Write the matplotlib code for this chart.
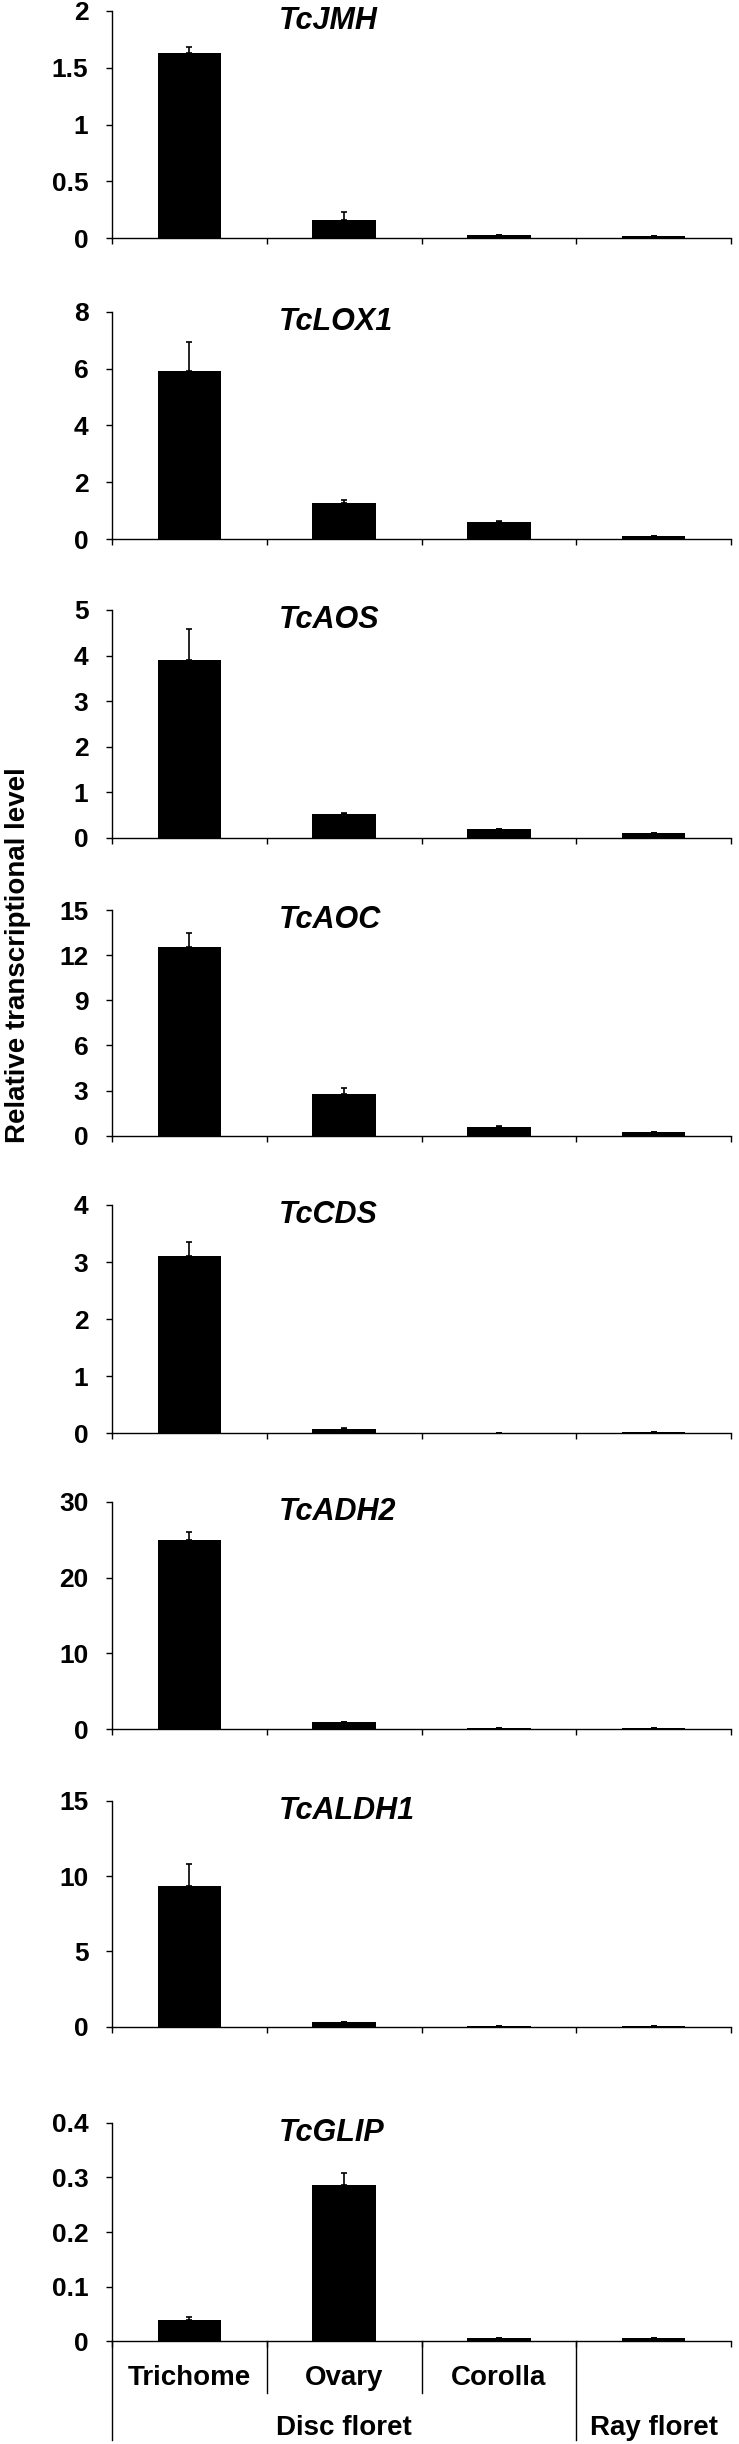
import numpy as np
import matplotlib
matplotlib.use("Agg")
import matplotlib.pyplot as plt
from matplotlib.transforms import blended_transform_factory
from matplotlib.lines import Line2D

# ---------------- data ----------------
genes = ["TcJMH", "TcLOX1", "TcAOS", "TcAOC", "TcCDS", "TcADH2", "TcALDH1", "TcGLIP"]
tissues = ["Trichome", "Ovary", "Corolla", ""]
groups = ["Disc floret", "Ray floret"]

JMH = [1.63, 0.16, 0.03, 0.02]
JMH_err = [0.05, 0.07, 0.0, 0.0]
LOX1 = [5.93, 1.26, 0.61, 0.12]
LOX1_err = [0.99, 0.12, 0.05, 0.0]
AOS = [3.90, 0.52, 0.19, 0.11]
AOS_err = [0.68, 0.03, 0.0, 0.0]
AOC = [12.56, 2.75, 0.60, 0.24]
AOC_err = [0.94, 0.44, 0.06, 0.0]
CDS = [3.11, 0.076, 0.01, 0.02]
CDS_err = [0.24, 0.014, 0.0, 0.0]
ADH2 = [24.9, 0.92, 0.13, 0.22]
ADH2_err = [1.06, 0.0, 0.0, 0.0]
ALDH1 = [9.35, 0.31, 0.05, 0.07]
ALDH1_err = [1.46, 0.0, 0.0, 0.0]
GLIP = [0.039, 0.286, 0.006, 0.006]
GLIP_err = [0.006, 0.022, 0.0, 0.0]

values = [JMH, LOX1, AOS, AOC, CDS, ADH2, ALDH1, GLIP]
errors = [JMH_err, LOX1_err, AOS_err, AOC_err, CDS_err, ADH2_err, ALDH1_err, GLIP_err]
ymax = [2, 8, 5, 15, 4, 30, 15, 0.4]
ystep = [0.5, 2, 1, 3, 1, 10, 5, 0.1]

# ---------------- layout (pixels) ----------------
W, H = 739, 2444
tops = [10.7, 311.7, 610, 910, 1205, 1501.7, 1801, 2122.7]
zeros_px = [238.3, 539.3, 837.7, 1135.7, 1433.3, 1729.3, 2026.7, 2341.3]
left_px, right_px = 112, 731

plt.rcParams['font.family'] = ['Liberation Sans', 'DejaVu Sans']
plt.rcParams['font.weight'] = 'bold'

fig = plt.figure(figsize=(W / 100, H / 100), dpi=100)

x = np.arange(4) + 0.5
for i, gene in enumerate(genes):
    top, zero = tops[i], zeros_px[i]
    ax = fig.add_axes([left_px / W, 1 - zero / H, (right_px - left_px) / W, (zero - top) / H])
    ax.bar(x, values[i], width=0.41, color='black',
           yerr=[[0] * 4, errors[i]],
           error_kw=dict(ecolor='black', elinewidth=1.2, capsize=2.5, capthick=1.2))
    for s in ['top', 'right']:
        ax.spines[s].set_visible(False)
    for s in ['left', 'bottom']:
        ax.spines[s].set_linewidth(1.0)
    ax.set_xticks([0, 1, 2, 3, 4])
    ax.set_xticklabels([])
    ticks = np.arange(0, ymax[i] + ystep[i] / 2, ystep[i])
    ax.set_yticks(ticks)
    ax.set_yticklabels([f"{t:g}" for t in ticks])
    ax.tick_params(axis='x', direction='out', length=4, width=1)
    ax.tick_params(axis='y', direction='out', length=4, width=1, pad=13, labelsize=19)
    for lbl in ax.get_yticklabels():
        lbl.set_fontweight('bold')
    tr = blended_transform_factory(ax.transData, ax.transAxes)
    ax.annotate(gene, xy=(1.08, 1.0), xycoords=tr, xytext=(0, -13), textcoords='offset points',
                ha='left', va='baseline', fontsize=22, fontstyle='italic', fontweight='bold')

    if i == len(genes) - 1:
        trf = blended_transform_factory(ax.transData, fig.transFigure)
        y0 = 1 - zero / H
        for xs, yb in [(0, 2440), (1, 2393), (2, 2393), (3, 2440)]:
            ax.add_line(Line2D([xs, xs], [y0, 1 - yb / H], transform=trf, color='black',
                               lw=1.0, clip_on=False))
        for j, t in enumerate(tissues):
            if t:
                ax.text(j + 0.5, 1 - 2385 / H, t, transform=trf, ha='center', va='baseline',
                        fontsize=20, fontweight='bold')
        ax.text(1.5, 1 - 2435 / H, groups[0], transform=trf, ha='center', va='baseline',
                fontsize=20, fontweight='bold')
        ax.text(3.5, 1 - 2435 / H, groups[1], transform=trf, ha='center', va='baseline',
                fontsize=20, fontweight='bold')
    ax.set_xlim(0, 4)
    ax.set_ylim(0, ymax[i])

fig.text(18 / W, 1 - 955 / H, 'Relative transcriptional level', rotation=90,
         ha='center', va='center', fontsize=20, fontweight='bold')

fig.savefig('out.png', dpi=100)
